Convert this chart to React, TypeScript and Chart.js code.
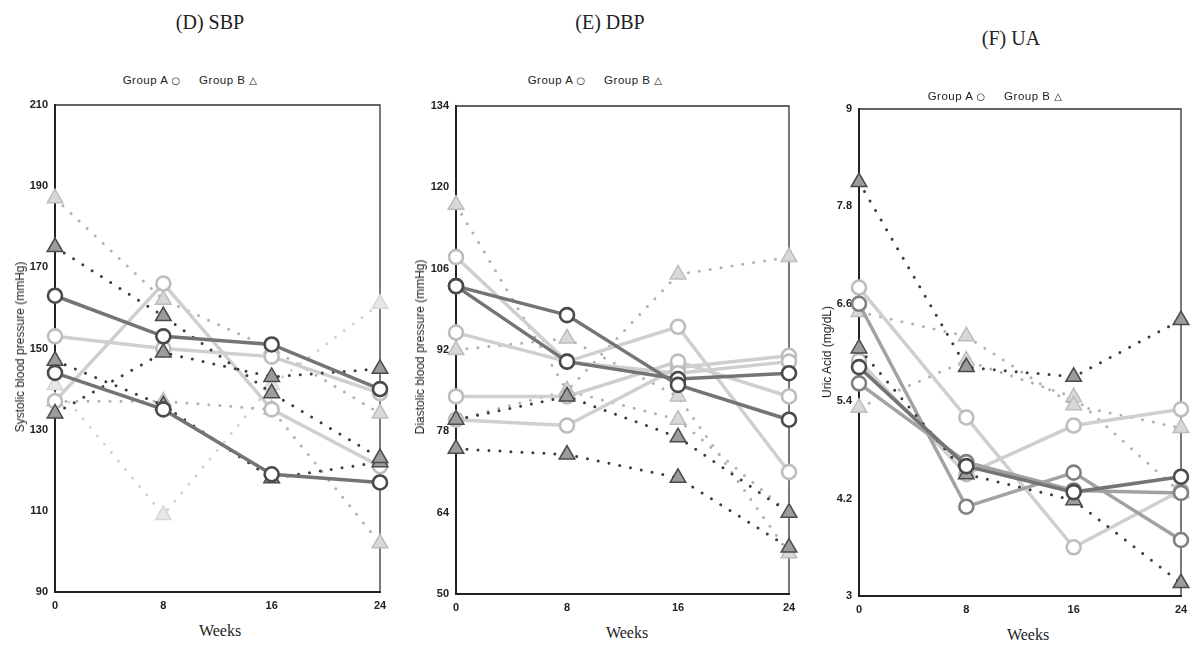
import React, { useEffect, useRef } from "react";
import { Chart, registerables } from "chart.js";

Chart.register(...registerables);

// ---------- data ----------
const weeks = [0, 8, 16, 24];

const sbpTicks = [90, 110, 130, 150, 170, 190, 210];
const dbpTicks = [50, 64, 78, 92, 106, 120, 134];
const uaTicks = [3, 4.2, 5.4, 6.6, 7.8, 9];

// (D) SBP — Group A (circles) and Group B (triangles)
const sbpA1 = [163, 153, 151, 140];
const sbpA2 = [144, 135, 119, 117];
const sbpA3 = [153, 150, 148, 139];
const sbpA4 = [137, 166, 135, 121];
const sbpB1 = [175, 158, 139, 123];
const sbpB2 = [187, 162, 150, 134];
const sbpB3 = [134, 149, 143, 145];
const sbpB4 = [147, 136, 118, 122];
const sbpB5 = [141, 109, 141, 161];
const sbpB6 = [137, 137, 135, 102];

// (E) DBP
const dbpA1 = [103, 98, 86, 80];
const dbpA2 = [103, 90, 87, 88];
const dbpA3 = [108, 90, 96, 71];
const dbpA4 = [95, 90, 88, 90];
const dbpA5 = [84, 84, 90, 84];
const dbpA6 = [80, 79, 89, 91];
const dbpB1 = [117, 85, 80, 64];
const dbpB2 = [92, 94, 84, 57];
const dbpB3 = [80, 85, 105, 108];
const dbpB4 = [75, 74, 70, 58];
const dbpB5 = [80, 84, 77, 64];

// (F) UA
const uaA1 = [5.82, 4.6, 4.28, 4.47];
const uaA2 = [5.62, 4.65, 4.3, 4.27];
const uaA3 = [6.8, 5.2, 3.6, 4.3];
const uaA4 = [6.6, 4.1, 4.52, 3.69];
const uaA5 = [5.9, 4.5, 5.1, 5.3];
const uaB1 = [8.1, 5.82, 5.7, 6.4];
const uaB2 = [6.05, 4.5, 4.18, 3.16];
const uaB3 = [6.5, 6.2, 5.35, 5.07];
const uaB4 = [5.32, 5.9, 5.45, 4.27];

// ---------- styles ----------
type Tone = "dark" | "medium" | "light" | "faint";
type Spec = { data: number[]; group: "A" | "B"; tone: Tone };

const TONES: Record<Tone, { line: string; edge: string; fill: string; dot: string; order: number }> = {
  dark: { line: "#747474", edge: "#4a4a4a", fill: "#9c9c9c", dot: "#3a3a3a", order: 0 },
  medium: { line: "#a2a2a2", edge: "#808080", fill: "#b8b8b8", dot: "#6e6e6e", order: 1 },
  light: { line: "#cfcfcf", edge: "#bdbdbd", fill: "#d8d8d8", dot: "#b0b0b0", order: 2 },
  faint: { line: "#e2e2e2", edge: "#d8d8d8", fill: "#e6e6e6", dot: "#d2d2d2", order: 3 },
};

const sbpSeries: Spec[] = [
  { data: sbpA1, group: "A", tone: "dark" },
  { data: sbpA2, group: "A", tone: "dark" },
  { data: sbpA3, group: "A", tone: "light" },
  { data: sbpA4, group: "A", tone: "light" },
  { data: sbpB1, group: "B", tone: "dark" },
  { data: sbpB2, group: "B", tone: "light" },
  { data: sbpB3, group: "B", tone: "dark" },
  { data: sbpB4, group: "B", tone: "dark" },
  { data: sbpB5, group: "B", tone: "faint" },
  { data: sbpB6, group: "B", tone: "light" },
];

const dbpSeries: Spec[] = [
  { data: dbpA1, group: "A", tone: "dark" },
  { data: dbpA2, group: "A", tone: "dark" },
  { data: dbpA3, group: "A", tone: "light" },
  { data: dbpA4, group: "A", tone: "light" },
  { data: dbpA5, group: "A", tone: "light" },
  { data: dbpA6, group: "A", tone: "light" },
  { data: dbpB1, group: "B", tone: "light" },
  { data: dbpB2, group: "B", tone: "light" },
  { data: dbpB3, group: "B", tone: "light" },
  { data: dbpB4, group: "B", tone: "dark" },
  { data: dbpB5, group: "B", tone: "dark" },
];

const uaSeries: Spec[] = [
  { data: uaA1, group: "A", tone: "dark" },
  { data: uaA2, group: "A", tone: "medium" },
  { data: uaA3, group: "A", tone: "light" },
  { data: uaA4, group: "A", tone: "medium" },
  { data: uaA5, group: "A", tone: "light" },
  { data: uaB1, group: "B", tone: "dark" },
  { data: uaB2, group: "B", tone: "dark" },
  { data: uaB3, group: "B", tone: "light" },
  { data: uaB4, group: "B", tone: "light" },
];

type Panel = {
  key: string;
  series: Spec[];
  ticks: number[];
  plot: { l: number; t: number; r: number; b: number };
};

const panels: Panel[] = [
  { key: "D", series: sbpSeries, ticks: sbpTicks, plot: { l: 55, t: 105, r: 380, b: 592 } },
  { key: "E", series: dbpSeries, ticks: dbpTicks, plot: { l: 456, t: 106, r: 789, b: 594 } },
  { key: "F", series: uaSeries, ticks: uaTicks, plot: { l: 859, t: 109, r: 1181, b: 596 } },
];

const AXW = 50;
const AXH = 30;
const PADT = 14;
const PADR = 14;

const tickFont = { family: "'Liberation Sans Narrow', 'Liberation Sans', Arial, sans-serif", size: 11, weight: "bold" as const };

const framePlugin = {
  id: "frame",
  beforeDatasetsDraw(chart: any) {
    const { ctx, chartArea: a } = chart;
    ctx.save();
    ctx.strokeStyle = "#333";
    ctx.lineWidth = 1.3;
    ctx.beginPath();
    ctx.moveTo(a.left, a.top);
    ctx.lineTo(a.right, a.top);
    ctx.lineTo(a.right, a.bottom);
    ctx.stroke();
    ctx.restore();
  },
};

function buildDatasets(series: Spec[]) {
  return series.map((s) => {
    const t = TONES[s.tone];
    const pts = weeks.map((w, i) => ({ x: w, y: s.data[i] }));
    if (s.group === "A") {
      return {
        data: pts,
        order: t.order,
        borderColor: t.line,
        borderWidth: 3.5,
        pointStyle: "circle",
        pointRadius: 7,
        pointBorderWidth: 2.6,
        pointBorderColor: t.edge,
        pointBackgroundColor: "#ffffff",
        tension: 0,
        clip: false,
      };
    }
    return {
      data: pts,
      order: t.order,
      borderColor: t.dot,
      borderWidth: 3,
      borderDash: [0, 11],
      borderCapStyle: "round",
      pointStyle: "triangle",
      pointRadius: 9,
      pointBorderWidth: 1.5,
      pointBorderColor: t.edge,
      pointBackgroundColor: t.fill,
      tension: 0,
      clip: false,
    };
  });
}

function PanelChart({ panel }: { panel: Panel }) {
  const ref = useRef<HTMLCanvasElement | null>(null);
  const { l, t, r, b } = panel.plot;
  const width = r - l + AXW + PADR;
  const height = b - t + PADT + AXH;

  useEffect(() => {
    if (!ref.current) return;
    const min = panel.ticks[0];
    const max = panel.ticks[panel.ticks.length - 1];
    const chart = new Chart(ref.current, {
      type: "line",
      data: { datasets: buildDatasets(panel.series) as any },
      options: {
        animation: false,
        responsive: false,
        devicePixelRatio: 1,
        layout: { padding: { top: PADT, right: PADR, left: 0, bottom: 0 } },
        plugins: { legend: { display: false }, tooltip: { enabled: false } },
        scales: {
          x: {
            type: "linear",
            min: 0,
            max: 24,
            afterBuildTicks: (s: any) => {
              s.ticks = weeks.map((v) => ({ value: v }));
            },
            afterFit: (s: any) => {
              s.height = AXH;
            },
            grid: { display: false, drawTicks: false },
            border: { display: true, color: "#222", width: 2 },
            ticks: { font: tickFont, color: "#222", padding: 7, maxRotation: 0 },
          },
          y: {
            type: "linear",
            min,
            max,
            afterBuildTicks: (s: any) => {
              s.ticks = panel.ticks.map((v) => ({ value: v }));
            },
            afterFit: (s: any) => {
              s.width = AXW;
            },
            grid: { display: false, drawTicks: false },
            border: { display: true, color: "#222", width: 2 },
            ticks: {
              font: tickFont,
              color: "#222",
              padding: 7,
              callback: (v: any) => String(Math.round(Number(v) * 10) / 10),
            },
          },
        },
      },
      plugins: [framePlugin],
    });
    return () => chart.destroy();
  }, [panel]);

  return (
    <canvas
      ref={ref}
      width={width}
      height={height}
      style={{ position: "absolute", left: l - AXW, top: t - PADT, width, height }}
    />
  );
}

const serif = "'Liberation Serif', 'Times New Roman', serif";
const sans = "'Liberation Sans', Arial, sans-serif";
const symFont = "'DejaVu Sans', sans-serif";

const titles = [
  { text: "(D) SBP", x: 210, y: 22 },
  { text: "(E) DBP", x: 610, y: 22 },
  { text: "(F) UA", x: 1011, y: 38 },
];
const legends = [
  { x: 190, y: 80 },
  { x: 595, y: 80 },
  { x: 995, y: 96 },
];
const yTitles = [
  { text: "Systolic blood pressure (mmHg)", x: 20, y: 347 },
  { text: "Diastolic blood pressure (mmHg)", x: 420, y: 347 },
  { text: "Uric Acid (mg/dL)", x: 827, y: 352 },
];
const xTitles = [
  { x: 220, y: 631 },
  { x: 627, y: 633 },
  { x: 1028, y: 635 },
];

export default function App() {
  return (
    <div
      style={{
        position: "fixed",
        left: 0,
        top: 0,
        width: 1192,
        height: 646,
        background: "#ffffff",
        overflow: "hidden",
      }}
    >
      {panels.map((p) => (
        <PanelChart key={p.key} panel={p} />
      ))}
      {titles.map((tt) => (
        <div
          key={tt.text}
          style={{
            position: "absolute",
            left: tt.x,
            top: tt.y,
            transform: "translate(-50%, -50%)",
            fontFamily: serif,
            fontSize: 20,
            color: "#222",
            whiteSpace: "nowrap",
          }}
        >
          {tt.text}
        </div>
      ))}
      {legends.map((lg, i) => (
        <div
          key={"lg" + i}
          style={{
            position: "absolute",
            left: lg.x,
            top: lg.y,
            transform: "translate(-50%, -50%)",
            fontFamily: sans,
            fontSize: 11.5,
            color: "#222",
            whiteSpace: "pre",
            letterSpacing: 0.5,
          }}
        >
          {"Group A "}
          <span style={{ fontFamily: symFont, fontSize: 10 }}>{"\u25CB"}</span>
          {"     Group B "}
          <span style={{ fontFamily: symFont, fontSize: 10 }}>{"\u25B3"}</span>
        </div>
      ))}
      {yTitles.map((yt) => (
        <div
          key={yt.text}
          style={{
            position: "absolute",
            left: yt.x,
            top: yt.y,
            transform: "translate(-50%, -50%) rotate(-90deg)",
            fontFamily: sans,
            fontSize: 12,
            color: "#222",
            whiteSpace: "nowrap",
          }}
        >
          {yt.text}
        </div>
      ))}
      {xTitles.map((xt, i) => (
        <div
          key={"xt" + i}
          style={{
            position: "absolute",
            left: xt.x,
            top: xt.y,
            transform: "translate(-50%, -50%)",
            fontFamily: serif,
            fontSize: 16,
            color: "#222",
            whiteSpace: "nowrap",
          }}
        >
          Weeks
        </div>
      ))}
    </div>
  );
}
